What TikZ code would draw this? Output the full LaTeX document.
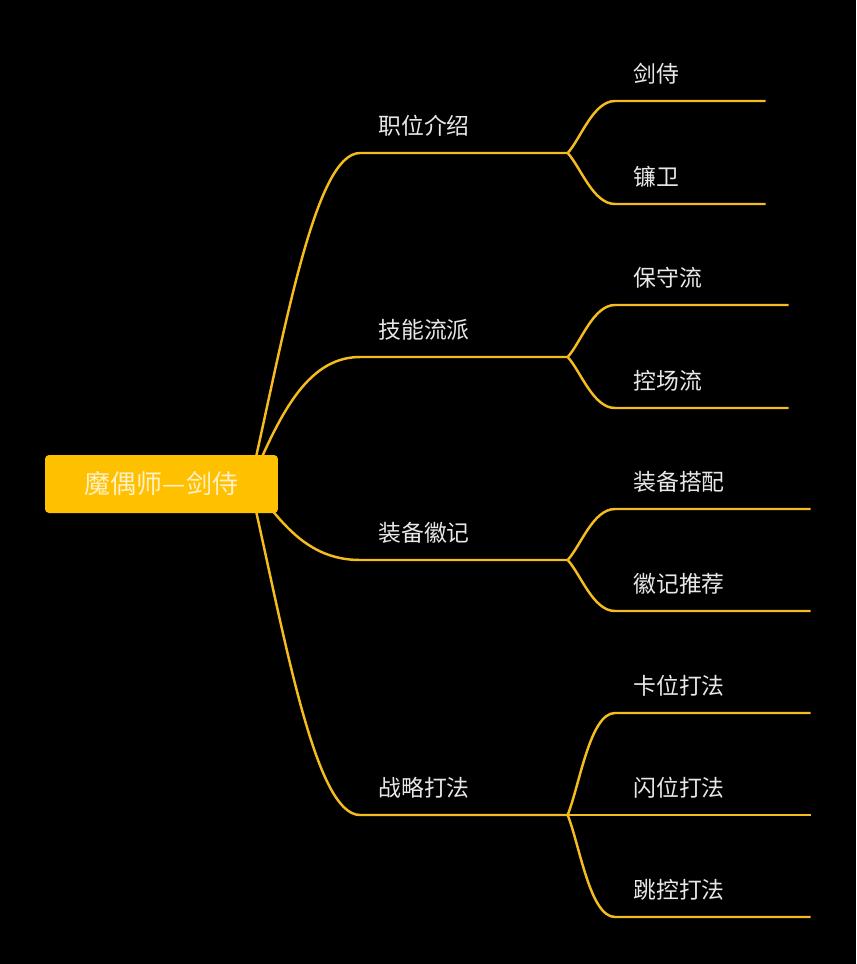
\documentclass[tikz,border=0pt]{standalone}
\usepackage{fontspec}
\setmainfont{Noto Sans CJK SC}
\definecolor{amber}{RGB}{255,192,0}
\definecolor{branchline}{RGB}{245,188,30}
\definecolor{labelgray}{RGB}{232,232,232}
\definecolor{rootcream}{RGB}{255,240,200}
\tikzset{
  topic/.style={anchor=south west, inner xsep=0.36cm, inner ysep=0.36cm, text width=#1,
    text depth=0pt, text=labelgray, font=\fontsize{13}{13}\selectfont},
  topic/.default=3.42cm,
  rootbox/.style={fill=amber, rounded corners=0.08cm, minimum width=4.66cm, minimum height=1.16cm,
    text=rootcream, font=\fontsize{14.8}{14.8}\selectfont},
  link/.style={draw=branchline, line width=1.4pt}
}
\begin{document}
\begin{tikzpicture}[x=0.02cm,y=-0.02cm]
  \fill[black] (0,0) rectangle (856,964);
  \coordinate (hub) at (250,484);
  % main topics
  \node[topic] (t1) at (360,153) {职位介绍};
  \node[topic] (t2) at (360,357) {技能流派};
  \node[topic] (t3) at (360,560) {装备徽记};
  \node[topic] (t4) at (360,815) {战略打法};
  % sub topics
  \node[topic=2.28cm] (l11) at (615,101) {剑侍};
  \node[topic=2.28cm] (l12) at (615,204) {镰卫};
  \node[topic=2.74cm] (l21) at (615,305) {保守流};
  \node[topic=2.74cm] (l22) at (615,408) {控场流};
  \node[topic=3.18cm] (l31) at (615,509) {装备搭配};
  \node[topic=3.18cm] (l32) at (615,611) {徽记推荐};
  \node[topic=3.18cm] (l41) at (615,713) {卡位打法};
  \node[topic=3.18cm] (l42) at (615,815) {闪位打法};
  \node[topic=3.18cm] (l43) at (615,917) {跳控打法};
  % hub to main topics
  \draw[link] (hub) .. controls +(35,-154) and +(-45,0) .. (t1.south west) -- (t1.south east);
  \draw[link] (hub) .. controls +(28,-64) and +(-55,0) .. (t2.south west) -- (t2.south east);
  \draw[link] (hub) .. controls +(25,26) and +(-60,0) .. (t3.south west) -- (t3.south east);
  \draw[link] (hub) .. controls +(35,154) and +(-45,0) .. (t4.south west) -- (t4.south east);
  % forks
  \foreach \t/\a/\b in {t1/l11/l12, t2/l21/l22, t3/l31/l32} {
    \draw[link] (\t.south east) .. controls +(13,-14) and +(-22,0) .. (\a.south west) -- (\a.south east);
    \draw[link] (\t.south east) .. controls +(13,14) and +(-22,0) .. (\b.south west) -- (\b.south east);
  }
  \draw[link] (t4.south east) .. controls +(12,-30) and +(-25,0) .. (l41.south west) -- (l41.south east);
  \draw[link] (t4.south east) -- (l42.south west) -- (l42.south east);
  \draw[link] (t4.south east) .. controls +(12,30) and +(-25,0) .. (l43.south west) -- (l43.south east);
  % root on top
  \node[rootbox] (root) at (161.5,484) {魔偶师—剑侍};
\end{tikzpicture}
\end{document}
